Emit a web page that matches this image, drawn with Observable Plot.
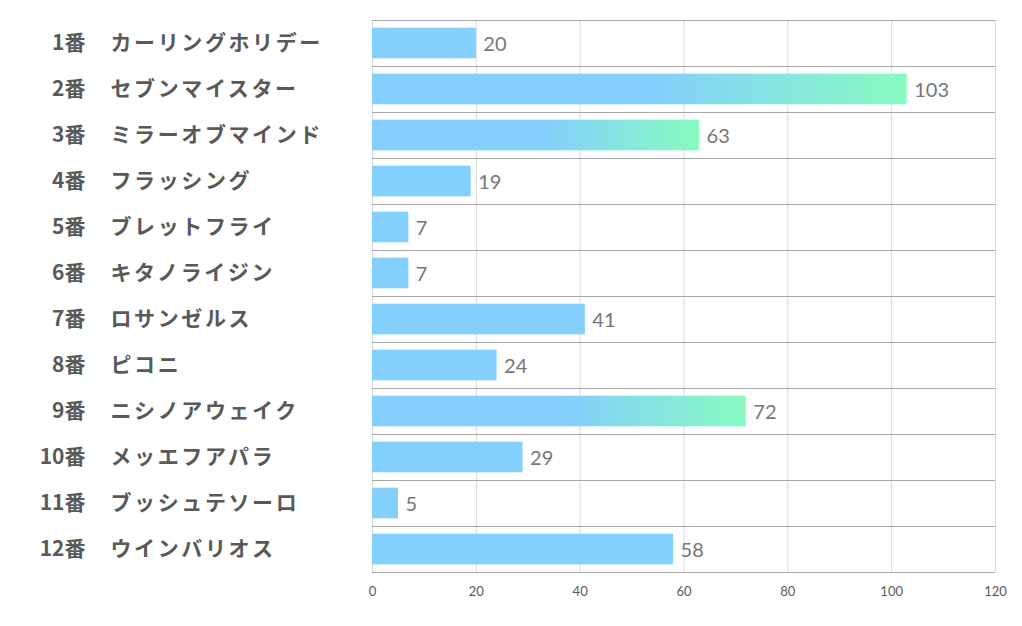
<!DOCTYPE html>
<html><head><meta charset="utf-8">
<script src="https://cdn.jsdelivr.net/npm/d3@7"></script>
<script src="https://cdn.jsdelivr.net/npm/@observablehq/plot@0.6"></script>
<style>
body{margin:0;background:#fff;}
</style>
</head><body><div id="chart"></div>
<script>
const numbers = ["1番","2番","3番","4番","5番","6番","7番","8番","9番","10番","11番","12番"];
const names = ["カーリングホリデー","セブンマイスター","ミラーオブマインド","フラッシング","ブレットフライ","キタノライジン","ロサンゼルス","ピコニ","ニシノアウェイク","メッエフアパラ","ブッシュテソーロ","ウインバリオス"];
const values = [20,103,63,19,7,7,41,24,72,29,5,58];
const xTicks = [0,20,40,60,80,100,120];

const top3 = [...values].sort((a,b)=>b-a).slice(0,3);
const data = values.map((v,i)=>({i, num:numbers[i], name:names[i], value:v, hi: top3.includes(v)}));
const rows = d3.range(numbers.length + 1);

const jp = "'Noto Sans CJK JP', sans-serif";
const chart = Plot.plot({
  width: 1022, height: 626,
  marginLeft: 372, marginRight: 27, marginTop: 20, marginBottom: 54,
  style: {fontFamily: "Lato, 'Open Sans', sans-serif", background: "#fff"},
  x: {domain: [0,120], ticks: xTicks, tickSize: 0, tickPadding: 14, label: null, tickFormat: d => d},
  y: {domain: [numbers.length, 0], axis: null},
  marks: [
    () => {
      const ns = "http://www.w3.org/2000/svg";
      const defs = document.createElementNS(ns, "defs");
      defs.innerHTML = `<linearGradient id="grad" x1="0" x2="1" y1="0" y2="0">
        <stop offset="0" stop-color="#7ACBFE"/>
        <stop offset="0.52" stop-color="#7ACBFE"/>
        <stop offset="1" stop-color="#7FFBBB"/>
      </linearGradient>`;
      return defs;
    },
    Plot.ruleX(xTicks, {stroke: "#d9d9d9", strokeOpacity: 1}),
    Plot.ruleY(rows, {stroke: "#a6a6a6", strokeOpacity: 1}),
    Plot.rectX(data.filter(d => !d.hi), {x1: 0, x2: "value", y1: d => d.i, y2: d => d.i + 1, insetTop: 7.7, insetBottom: 7.7, fill: "#7ACBFE", fillOpacity: 0.93}),
    Plot.rectX(data.filter(d => d.hi), {x1: 0, x2: "value", y1: d => d.i, y2: d => d.i + 1, insetTop: 7.7, insetBottom: 7.7, fill: "url(#grad)", fillOpacity: 0.93}),
    Plot.text(data, {x: "value", y: d => d.i + 0.5, text: d => String(d.value), dx: 7, textAnchor: "start", fill: "#767676", fontSize: 20, dy: 1}),
    Plot.text(data, {frameAnchor: "left", y: d => d.i + 0.5, text: "num", dx: -287, textAnchor: "end", fill: "#595959", fontSize: 21, fontWeight: "bold", fontFamily: jp}),
    Plot.text(data, {frameAnchor: "left", y: d => d.i + 0.5, text: "name", dx: -262, textAnchor: "start", fill: "#595959", fontSize: 21, fontWeight: "bold", fontFamily: jp})
  ]
});
d3.select(chart).selectAll("g[aria-label='x-axis tick label'] text, g[aria-label='x-axis'] text").attr("fill", "#595959").style("font-size", "13px");
const nameSet = new Set(names);
d3.select(chart).selectAll("text").filter(function(){ return nameSet.has(this.textContent); }).style("letter-spacing", "2.6px");
document.getElementById("chart").appendChild(chart);
</script>
</body></html>
